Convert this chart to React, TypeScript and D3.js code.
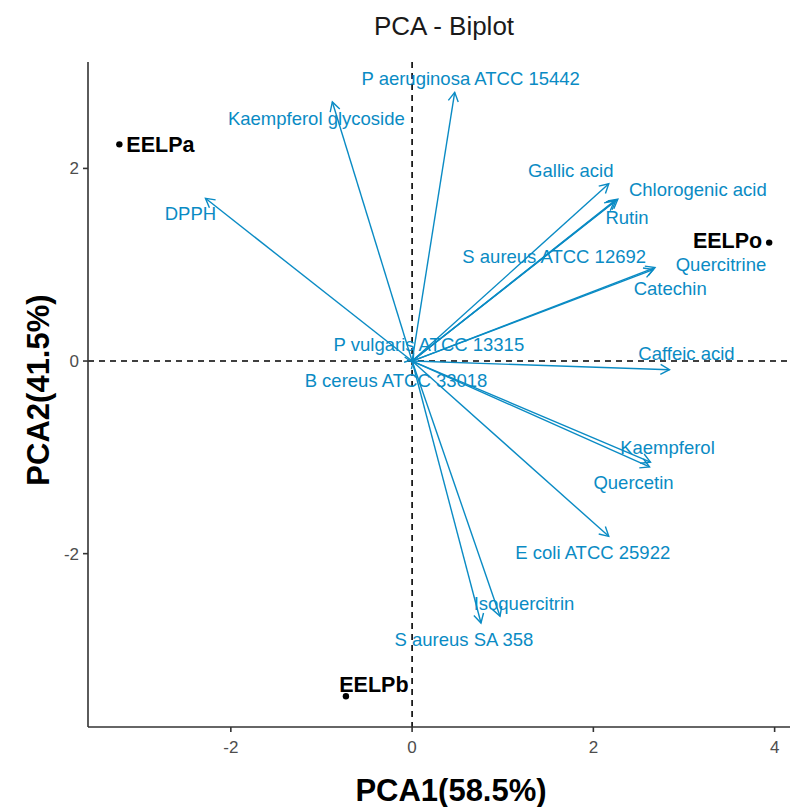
import React from "react";
import { scaleLinear } from "d3";

// variables (arrows) - coordinates on PC1 / PC2
const varNames = [
  "P aeruginosa ATCC 15442",
  "Kaempferol glycoside",
  "DPPH",
  "Gallic acid",
  "Chlorogenic acid",
  "Rutin",
  "S aureus ATCC 12692",
  "Quercitrine",
  "Catechin",
  "Caffeic acid",
  "Kaempferol",
  "Quercetin",
  "E coli ATCC 25922",
  "Isoquercitrin",
  "S aureus SA 358",
  "P vulgaris ATCC 13315",
  "B cereus ATCC 33018",
];
const varPC1 = [0.47, -0.88, -2.28, 2.17, 2.27, 2.25, 2.23, 2.68, 2.66, 2.84, 2.63, 2.62, 2.17, 0.97, 0.76, 0.02, 0.01];
const varPC2 = [2.79, 2.69, 1.69, 1.84, 1.68, 1.67, 1.66, 0.97, 0.95, -0.09, -1.05, -1.1, -1.82, -2.65, -2.72, 0.02, -0.02];

// individuals
const indNames = ["EELPa", "EELPo", "EELPb"];
const indPC1 = [-3.23, 3.94, -0.73];
const indPC2 = [2.25, 1.23, -3.48];

const xTicks = [-2, 0, 2, 4];
const yTicks = [-2, 0, 2];

// repelled label offsets (px) from arrow tips
const varLabelOffset: Record<string, [number, number]> = {
  "P aeruginosa ATCC 15442": [16, -14],
  "Kaempferol glycoside": [-16, 17],
  "DPPH": [-15, 15],
  "Gallic acid": [-38, -13],
  "Chlorogenic acid": [80, -10],
  "Rutin": [11, 17],
  "S aureus ATCC 12692": [-60, 55],
  "Quercitrine": [66, -3],
  "Catechin": [17, 19],
  "Caffeic acid": [17, -16],
  "Kaempferol": [17, -15],
  "Quercetin": [-16, 16],
  "E coli ATCC 25922": [-16, 16],
  "Isoquercitrin": [24, -13],
  "S aureus SA 358": [-17, 17],
  "P vulgaris ATCC 13315": [15, -15],
  "B cereus ATCC 33018": [-17, 18],
};
const indLabel: Record<string, { dx: number; dy: number; anchor: string }> = {
  EELPa: { dx: 7, dy: 0, anchor: "start" },
  EELPo: { dx: -7, dy: -2, anchor: "end" },
  EELPb: { dx: 28, dy: -12, anchor: "middle" },
};

const W = 790;
const H = 807;
const left = 88;
const right = 800;
const top = 62;
const bottom = 727;
const blue = "#0a8bc4";

export default function App() {
  const x = scaleLinear().domain([-3.576, 4.28]).range([left, right]);
  const y = scaleLinear().domain([-3.8, 3.105]).range([bottom, top]);
  const font = "'Liberation Sans', Arial, sans-serif";

  return (
    <svg width={W} height={H} style={{ position: "absolute", left: 0, top: 0, background: "#fff" }} fontFamily={font}>
      <defs>
        <marker id="arr" markerUnits="userSpaceOnUse" markerWidth={14} markerHeight={14} refX={10} refY={6} orient="auto" viewBox="0 0 14 12">
          <path d="M1,1 L10,6 L1,11" fill="none" stroke={blue} strokeWidth={1.4} />
        </marker>
      </defs>

      <text x={444} y={35} textAnchor="middle" fontSize={26} fill="#1a1a1a">PCA - Biplot</text>

      {/* reference lines */}
      <line x1={x(0)} x2={x(0)} y1={top} y2={bottom} stroke="#000" strokeWidth={1.6} strokeDasharray="6,5" />
      <line x1={left} x2={right} y1={y(0)} y2={y(0)} stroke="#000" strokeWidth={1.6} strokeDasharray="6,5" />

      {/* arrows */}
      {varNames.map((n, i) => (
        <line key={n} x1={x(0)} y1={y(0)} x2={x(varPC1[i])} y2={y(varPC2[i])} stroke={blue} strokeWidth={1.4} markerEnd="url(#arr)" />
      ))}
      {varNames.map((n, i) => (
        <text key={n} x={x(varPC1[i]) + varLabelOffset[n][0]} y={y(varPC2[i]) + varLabelOffset[n][1]} dy="0.35em" textAnchor="middle" fontSize={18.5} fill={blue}>{n}</text>
      ))}

      {/* individuals */}
      {indNames.map((n, i) => (
        <g key={n}>
          <circle cx={x(indPC1[i])} cy={y(indPC2[i])} r={3.2} fill="#000" />
          <text x={x(indPC1[i]) + indLabel[n].dx} y={y(indPC2[i]) + indLabel[n].dy} dy="0.35em" textAnchor={indLabel[n].anchor} fontSize={21.5} fontWeight="bold" fill="#000">{n}</text>
        </g>
      ))}

      {/* axes */}
      <line x1={left} x2={left} y1={top} y2={bottom} stroke="#333" strokeWidth={1.6} />
      <line x1={left} x2={right} y1={bottom} y2={bottom} stroke="#333" strokeWidth={1.6} />
      {xTicks.map((t) => (
        <g key={t}>
          <line x1={x(t)} x2={x(t)} y1={bottom} y2={bottom + 5} stroke="#333" strokeWidth={1.6} />
          <text x={x(t)} y={bottom + 20} dy="0.35em" textAnchor="middle" fontSize={17} fill="#4d4d4d">{t}</text>
        </g>
      ))}
      {yTicks.map((t) => (
        <g key={t}>
          <line x1={left - 5} x2={left} y1={y(t)} y2={y(t)} stroke="#333" strokeWidth={1.6} />
          <text x={left - 9} y={y(t)} dy="0.35em" textAnchor="end" fontSize={17} fill="#4d4d4d">{t}</text>
        </g>
      ))}

      <text x={451} y={790} dy="0.35em" textAnchor="middle" fontSize={31} fontWeight="bold" fill="#000">PCA1(58.5%)</text>
      <text transform={`translate(38,390) rotate(-90)`} dy="0.35em" textAnchor="middle" fontSize={31} fontWeight="bold" fill="#000">PCA2(41.5%)</text>
    </svg>
  );
}
